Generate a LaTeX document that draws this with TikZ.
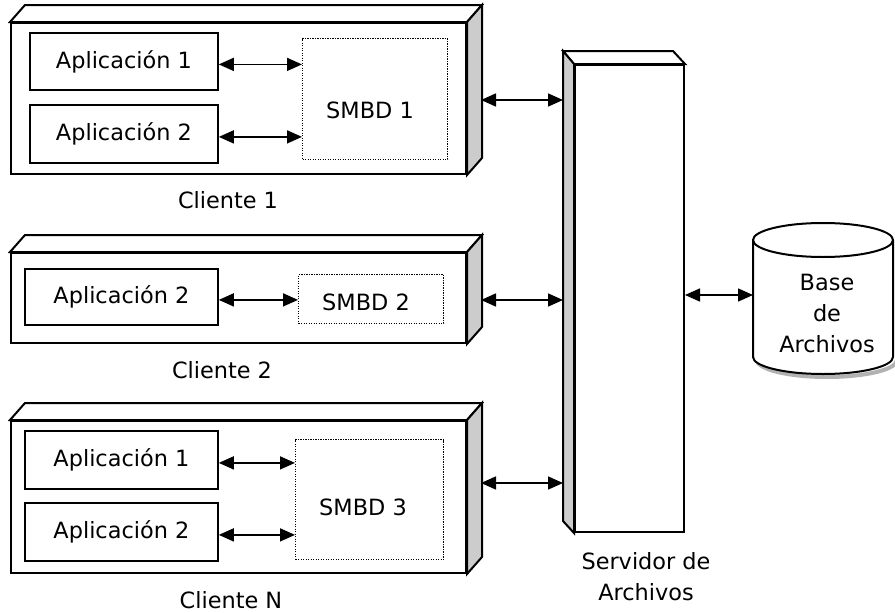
\documentclass[tikz,border=0pt]{standalone}
\usepackage{fontspec}
\setmainfont{DejaVu Sans}
\usetikzlibrary{arrows.meta,calc}

% top and right faces of a client slab, drawn from its front node
\newcommand{\slabfaces}[1]{%
  \draw[topface] (#1.north west) -- ++(15,-17) -- ($(#1.north east)+(15,-17)$) -- (#1.north east) -- cycle;
  \draw[sideface] (#1.north east) -- ++(15,-17) -- ($(#1.south east)+(15,-17)$) -- (#1.south east) -- cycle;}

\tikzset{
  headtip/.tip={Triangle[length=15pt 0, width=13pt 0]}
}

\begin{document}
\begin{tikzpicture}[x=1pt,y=-1pt,
  font=\fontsize{22.4}{31}\selectfont,
  frontbox/.style={draw, line width=2pt, fill=white, anchor=north west, inner sep=0pt},
  sideface/.style={draw, line width=2pt, fill=black!20, line join=miter},
  topface/.style={draw, line width=2pt, fill=white, line join=miter},
  appbox/.style={draw, line width=1.8pt, fill=white, anchor=north west, inner sep=0pt},
  dbbox/.style={draw, line width=1.2pt, dash pattern=on 1.2pt off 1.3pt, anchor=north west, inner sep=0pt},
  biarrow/.style={line width=1.6pt, headtip-headtip},
  lbl/.style={align=center, inner sep=0pt}
]
\useasboundingbox (0,0) rectangle (895,613);

% ---------- Cliente 1 ----------
\node[frontbox, minimum width=455pt, minimum height=151pt] (c1) at (10,22) {};
\slabfaces{c1}
\node[appbox, minimum width=188pt, minimum height=57pt] (a11) at (29,32) {Aplicación 1};
\node[appbox, minimum width=188pt, minimum height=58pt] (a12) at (29,104) {Aplicación 2};
\node[dbbox, minimum width=145pt, minimum height=121pt] (s1) at (302,38) {};
\node[lbl] (s1t) at (370,110) {SMBD 1};
\draw[biarrow] ($(a11.east)+(0,3)$) -- ($(a11.east -| s1.west)+(0,3)$);
\draw[biarrow] ($(a12.east)+(0,3)$) -- ($(a12.east -| s1.west)+(0,3)$);
\node[lbl] (c1l) at (228,200) {Cliente 1};

% ---------- Cliente 2 ----------
\node[frontbox, minimum width=455pt, minimum height=90pt] (c2) at (10,252) {};
\slabfaces{c2}
\node[appbox, minimum width=193pt, minimum height=56pt] (a22) at (24,268) {Aplicación 2};
\node[dbbox, minimum width=145pt, minimum height=49pt] (s2) at (298,274) {};
\node[lbl] (s2t) at (366,302) {SMBD 2};
\draw[biarrow] ($(a22.east)+(0,3)$) -- ($(a22.east -| s2.west)+(0,3)$);
\node[lbl] (c2l) at (222,370) {Cliente 2};

% ---------- Cliente N ----------
\node[frontbox, minimum width=455pt, minimum height=152pt] (cn) at (10,420) {};
\slabfaces{cn}
\node[appbox, minimum width=193pt, minimum height=58pt] (an1) at (24,430) {Aplicación 1};
\node[appbox, minimum width=193pt, minimum height=58pt] (an2) at (24,502) {Aplicación 2};
\node[dbbox, minimum width=148pt, minimum height=120pt] (s3) at (295,439) {};
\node[lbl] (s3t) at (363,507) {SMBD 3};
\draw[biarrow] ($(an1.east)+(0,3)$) -- ($(an1.east -| s3.west)+(0,3)$);
\draw[biarrow] ($(an2.east)+(0,3)$) -- ($(an2.east -| s3.west)+(0,3)$);
\node[lbl] (cnl) at (231,600) {Cliente N};

% ---------- Servidor de Archivos ----------
\node[frontbox, minimum width=109pt, minimum height=467pt] (srv) at (574,64) {};
\draw[topface] (srv.north west) -- ++(-11,-13) -- ($(srv.north east)+(-12,-13)$) -- (srv.north east) -- cycle;
\draw[sideface] (srv.north west) -- ++(-11,-13) -- ($(srv.south west)+(-11,-12)$) -- (srv.south west) -- cycle;
\node[lbl] (srvl) at (646,577) {Servidor de\\Archivos};

% client <-> server links
\coordinate (c1r) at (481,100);  \coordinate (sv1) at (563,100);
\coordinate (c2r) at (481,300);  \coordinate (sv2) at (563,300);
\coordinate (cnr) at (481,483);  \coordinate (sv3) at (563,483);
\draw[biarrow] (c1r) -- (sv1);
\draw[biarrow] (c2r) -- (sv2);
\draw[biarrow] (cnr) -- (sv3);

% ---------- Base de Archivos ----------
\draw[black!30, line width=4pt] (757,360) arc[start angle=180, end angle=360, x radius=70pt, y radius=17pt];
\draw[line width=2pt, fill=white] (753,240) -- (753,357) arc[start angle=180, end angle=360, x radius=70pt, y radius=17pt] -- (893,240);
\draw[line width=2pt, fill=white] (823,240) ellipse[x radius=70pt, y radius=17pt];
\node[lbl] (db) at (827,313) {Base\\de\\Archivos};
\coordinate (dbw) at (753,295);
\draw[biarrow] (srv.east |- dbw) -- (dbw);
\end{tikzpicture}
\end{document}
